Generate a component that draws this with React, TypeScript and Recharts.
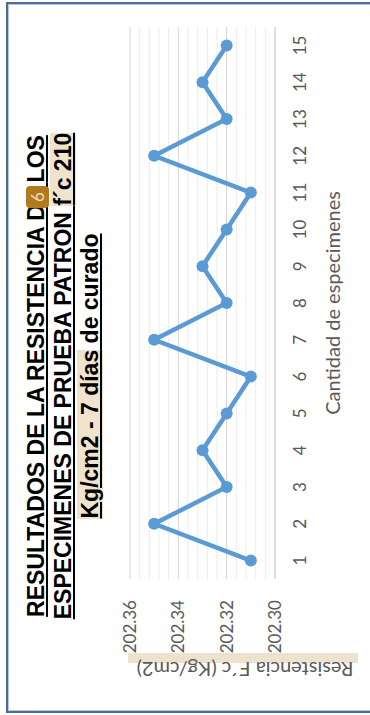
import { LineChart, CartesianGrid, XAxis, YAxis, Line, ReferenceLine } from "recharts";

const specimens = [1, 2, 3, 4, 5, 6, 7, 8, 9, 10, 11, 12, 13, 14, 15];
const resistance = [
  202.31, 202.35, 202.32, 202.33, 202.32, 202.31, 202.35, 202.32, 202.33, 202.32, 202.31, 202.35, 202.32,
  202.33, 202.32,
];
const valueTicks = [202.3, 202.32, 202.34, 202.36];
const minorValues = [
  202.304, 202.308, 202.312, 202.316, 202.324, 202.328, 202.332, 202.336, 202.344, 202.348, 202.352, 202.356,
];

const data = specimens.map((s, i) => ({ specimen: s, value: resistance[i] }));

const tickStyle = { fill: "#595959", fontSize: 17, fontFamily: "Lato" };
const blue = "#5B9BD5";

const App = () => {
  return (
    <div style={{ position: "absolute", left: 0, top: 0, width: 370, height: 715, overflow: "hidden", background: "#fff" }}>
      {/* frame */}
      <div
        style={{
          position: "absolute",
          left: 6,
          top: 2,
          width: 400,
          height: 707,
          border: "2px solid #4F6A9C",
          boxShadow: "inset 0 0 0 1px #b9c5dc",
        }}
      />
      {/* chart drawn landscape, then turned a quarter counter-clockwise */}
      <div
        style={{
          position: "absolute",
          left: 0,
          top: 0,
          width: 715,
          height: 370,
          transformOrigin: "0 0",
          transform: "translate(0px, 715px) rotate(-90deg)",
        }}
      >
        <div style={{ position: "absolute", left: 52, top: 128, width: 10, height: 230, background: "#EDE2CD" }} />
        <div style={{ position: "absolute", left: 0, top: 0 }}>
          <LineChart width={715} height={370} data={data} margin={{ top: 130, right: 27, bottom: 10, left: 0 }}>
            <CartesianGrid vertical={false} stroke="#d4d4d4" />
            {minorValues.map((v) => (
              <ReferenceLine key={v} y={v} stroke="#ececec" ifOverflow="extendDomain" />
            ))}
            <XAxis
              dataKey="specimen"
              type="number"
              domain={[0.5, 15.5]}
              ticks={specimens}
              height={85}
              tickLine={false}
              tickSize={6}
              tickMargin={13}
              axisLine={{ stroke: "#d4d4d4" }}
              tick={tickStyle}
              label={{
                value: "Cantidad de especimenes",
                position: "insideBottom",
                offset: 20,
                style: { fill: "#595959", fontSize: 20, fontFamily: "Lato" },
              }}
            />
            <YAxis
              domain={[202.3, 202.36]}
              ticks={valueTicks}
              width={136}
              tickLine={false}
              axisLine={false}
              tickSize={6}
              tickMargin={15}
              tick={tickStyle}
              tickFormatter={(v: number) => v.toFixed(2)}
            />
            <Line
              type="linear"
              dataKey="value"
              stroke={blue}
              strokeWidth={4.5}
              dot={{ r: 6, fill: blue, stroke: blue, strokeWidth: 0 }}
              isAnimationActive={false}
            />
          </LineChart>
        </div>
        {/* value axis title */}
        <div
          style={{
            position: "absolute",
            left: 45,
            top: 245,
            transform: "translate(-50%, -50%) rotate(-90deg)",
            whiteSpace: "nowrap",
            fontFamily: "Lato",
            fontSize: 20,
            color: "#595959",
          }}
        >
          Resistencia F´c (Kg/cm2)
        </div>
        {/* title */}
        <div
          style={{
            position: "absolute",
            left: 39,
            top: 23,
            width: 600,
            textAlign: "center",
            fontFamily: "'Liberation Sans', Arial, sans-serif",
            fontWeight: "bold",
            fontSize: 23,
            lineHeight: "27px",
            color: "#000",
            whiteSpace: "nowrap",
          }}
        >
          <div>
            <span style={{ textDecoration: "underline" }}>
              RESULTADOS DE LA RESISTENCIA D
              <span style={{ position: "relative" }}>
                E
                <span
                  style={{
                    position: "absolute",
                    left: -4,
                    top: 3,
                    width: 22,
                    height: 23,
                    borderRadius: 4,
                    background: "#B07A1E",
                    color: "#F3DFB4",
                    fontFamily: "Lato",
                    fontWeight: "normal",
                    fontSize: 17,
                    lineHeight: "23px",
                    textAlign: "center",
                  }}
                >
                  6
                </span>
              </span>{" "}
              LOS
            </span>
          </div>
          <div>
            <span style={{ textDecoration: "underline" }}>
              ESPECIMENES DE PRUEBA PATRON <span style={{ background: "#EFE3CD" }}>f´c 210</span>
            </span>
          </div>
          <div>
            <span style={{ textDecoration: "underline" }}>
              <span style={{ background: "#EFE3CD" }}>Kg/cm2 - 7 días</span> de curado
            </span>
          </div>
        </div>
      </div>
    </div>
  );
};

export default App;
